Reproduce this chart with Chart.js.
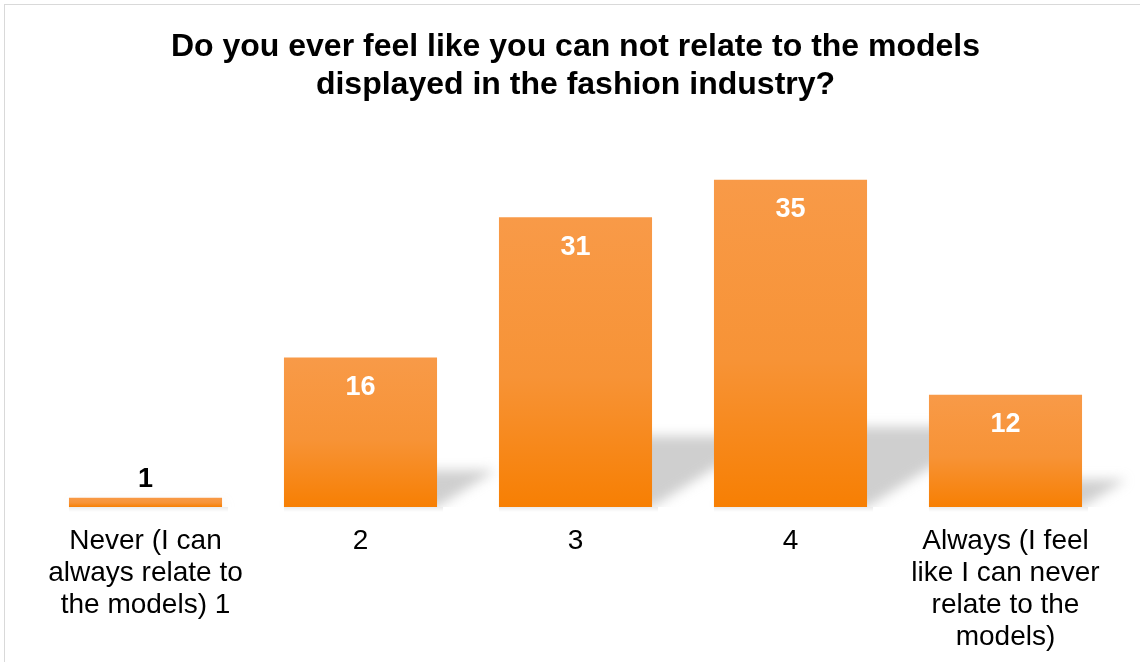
<!DOCTYPE html>
<html>
<head>
<meta charset="utf-8">
<script src="https://cdn.jsdelivr.net/npm/chart.js@4.4.1/dist/chart.umd.min.js"></script>
<style>
  html, body { margin: 0; padding: 0; background: #ffffff; }
  #wrap { position: relative; width: 1140px; height: 662px; }
</style>
</head>
<body>
<div id="wrap"><canvas id="c" width="1140" height="662"></canvas></div>
<script>
const titleLines = ["Do you ever feel like you can not relate to the models", "displayed in the fashion industry?"];
const categories = [
  ["Never (I can", "always relate to", "the models) 1"],
  ["2"],
  ["3"],
  ["4"],
  ["Always (I feel", "like I can never", "relate to the", "models)"]
];
const responses = [1, 16, 31, 35, 12];

const FONT = "'Liberation Sans', Arial, sans-serif";

const framePlugin = {
  id: 'frame',
  beforeDraw(chart) {
    const ctx = chart.ctx;
    ctx.save();
    ctx.fillStyle = '#ffffff';
    ctx.fillRect(0, 0, chart.width, chart.height);
    ctx.strokeStyle = '#d9d9d9';
    ctx.lineWidth = 1;
    ctx.strokeRect(4.5, 4.5, chart.width + 20, chart.height + 20);
    ctx.restore();
  }
};

const shadowPlugin = {
  id: 'barShadow',
  beforeDatasetsDraw(chart) {
    const ctx = chart.ctx;
    const meta = chart.getDatasetMeta(0);
    ctx.save();
    ctx.beginPath();
    ctx.rect(chart.chartArea.left - 40, chart.chartArea.top, chart.width, chart.chartArea.bottom - chart.chartArea.top);
    ctx.clip();
    meta.data.forEach(bar => {
      const p = bar.getProps(['x', 'y', 'base', 'width'], true);
      const left = p.x - p.width / 2, right = p.x + p.width / 2;
      const h = p.base - p.y;
      const sh = h * 0.245;
      const dx = sh * 1.6;
      ctx.save();
      ctx.filter = 'blur(6px)';
      ctx.fillStyle = 'rgba(160,160,160,0.5)';
      ctx.beginPath();
      ctx.moveTo(left + 4, p.base);
      ctx.lineTo(right, p.base);
      ctx.lineTo(right + dx, p.base - sh);
      ctx.lineTo(left + dx, p.base - sh);
      ctx.closePath();
      ctx.fill();
      ctx.restore();
    });
    ctx.restore();
    ctx.save();
    meta.data.forEach(bar => {
      const p = bar.getProps(['x', 'y', 'base', 'width'], true);
      const g = ctx.createLinearGradient(0, p.base, 0, p.base + 5);
      g.addColorStop(0, 'rgba(0,0,0,0.08)');
      g.addColorStop(1, 'rgba(0,0,0,0)');
      ctx.fillStyle = g;
      ctx.fillRect(p.x - p.width / 2, p.base, p.width + 6, 5);
    });
    ctx.restore();
  }
};

const labelPlugin = {
  id: 'valueLabels',
  afterDatasetsDraw(chart) {
    const ctx = chart.ctx;
    const meta = chart.getDatasetMeta(0);
    ctx.save();
    ctx.font = 'bold 27px ' + FONT;
    ctx.textAlign = 'center';
    ctx.textBaseline = 'middle';
    meta.data.forEach((bar, i) => {
      const v = chart.data.datasets[0].data[i];
      const p = bar.getProps(['x', 'y', 'base'], true);
      if (p.base - p.y < 40) {
        ctx.fillStyle = '#000000';
        ctx.fillText(String(v), p.x, p.y - 18);
      } else {
        ctx.fillStyle = '#ffffff';
        ctx.fillText(String(v), p.x, p.y + 30);
      }
    });
    ctx.restore();
  }
};

function barGradient(context) {
  const chart = context.chart;
  if (!chart.chartArea || context.type !== 'data') return '#f78a2a';
  const y = chart.scales.y;
  const top = y.getPixelForValue(context.raw);
  const base = y.getPixelForValue(0);
  if (!isFinite(top) || !isFinite(base) || base - top < 1) return '#f78a2a';
  const g = chart.ctx.createLinearGradient(0, top, 0, base);
  g.addColorStop(0, '#f89a48');
  g.addColorStop(0.55, '#f79336');
  g.addColorStop(1, '#f77f03');
  return g;
}

new Chart(document.getElementById('c'), {
  type: 'bar',
  data: {
    labels: categories,
    datasets: [{
      data: responses,
      backgroundColor: barGradient,
      borderWidth: 0,
      categoryPercentage: 1.0,
      barPercentage: 0.712
    }]
  },
  options: {
    responsive: false,
    animation: false,
    devicePixelRatio: 1,
    layout: { padding: { top: 0, left: 38, right: 27, bottom: 0 } },
    plugins: {
      legend: { display: false },
      tooltip: { enabled: false },
      title: {
        display: true,
        text: titleLines,
        color: '#000000',
        font: { family: FONT, size: 32, weight: 'bold', lineHeight: 1.1875 },
        padding: { top: 28, bottom: 29 }
      }
    },
    scales: {
      x: {
        grid: { display: false },
        border: { display: false },
        afterFit(scale) { scale.height = 155; },
        ticks: {
          color: '#000000',
          font: { family: FONT, size: 28, lineHeight: 1.143 },
          padding: 10,
          autoSkip: false,
          maxRotation: 0,
          minRotation: 0
        }
      },
      y: {
        display: false,
        min: 0,
        max: 40
      }
    }
  },
  plugins: [framePlugin, shadowPlugin, labelPlugin]
});
</script>
</body>
</html>
